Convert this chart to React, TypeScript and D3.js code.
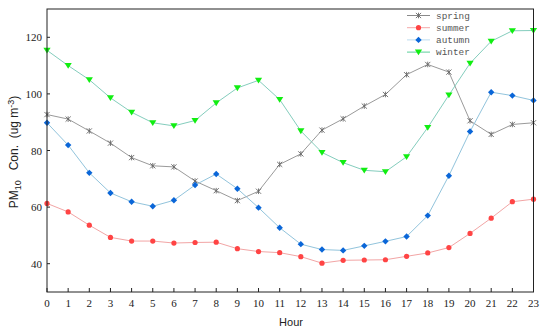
import React from "react";
import * as d3 from "d3";

const hours = d3.range(0, 24);
const spring = [92.7, 91.1, 86.9, 82.6, 77.5, 74.6, 74.2, 69.2, 65.8, 62.3, 65.6, 75.1, 78.8, 87.2, 91.2, 95.7, 99.8, 106.8, 110.4, 107.7, 90.5, 85.7, 89.2, 89.8];
const summer = [61.3, 58.3, 53.6, 49.3, 48.0, 48.0, 47.3, 47.5, 47.6, 45.3, 44.3, 43.9, 42.5, 40.2, 41.2, 41.3, 41.4, 42.6, 43.8, 45.7, 50.7, 56.1, 61.9, 62.8];
const autumn = [89.8, 81.9, 72.1, 65.0, 61.9, 60.3, 62.4, 67.8, 71.7, 66.5, 59.8, 52.7, 46.9, 45.0, 44.7, 46.3, 47.9, 49.6, 57.0, 71.1, 86.7, 100.6, 99.4, 97.7];
const winter = [115.4, 110.0, 105.0, 98.6, 93.5, 89.8, 88.7, 90.6, 96.8, 102.1, 104.8, 98.0, 86.9, 79.3, 75.7, 73.0, 72.5, 77.8, 88.1, 99.6, 110.8, 118.6, 122.3, 122.4];
const yTicks = [40, 60, 80, 100, 120];
const seriesNames = ["spring", "summer", "autumn", "winter"];

const W = 550, H = 333;
const M = { left: 47, right: 533.5, top: 9, bottom: 292 };

type S = { name: string; values: number[]; line: string; legendLine: string; marker: string; shape: string };

export default function App() {
  const x = d3.scaleLinear().domain([0, 23]).range([M.left, M.right]);
  const y = d3.scaleLinear().domain([30, 130]).range([M.bottom, M.top]);
  const series: S[] = [
    { name: seriesNames[0], values: spring, line: "#9a9a9a", legendLine: "#8a8a8a", marker: "#666", shape: "star" },
    { name: seriesNames[1], values: summer, line: "#f2a5a5", legendLine: "#f4a8a8", marker: "#ff4444", shape: "circle" },
    { name: seriesNames[2], values: autumn, line: "#92c4dc", legendLine: "#bcdcf0", marker: "#0a66d8", shape: "diamond" },
    { name: seriesNames[3], values: winter, line: "#84cdbd", legendLine: "#5ccf9a", marker: "#11ee11", shape: "tri" },
  ];
  const line = d3.line<number>().x((_, i) => x(hours[i])).y((v) => y(v));

  const marker = (s: S, cx: number, cy: number, key: string | number) => {
    if (s.shape === "circle") return <circle key={key} cx={cx} cy={cy} r={2.6} fill={s.marker} />;
    if (s.shape === "diamond")
      return <path key={key} d={`M${cx},${cy - 3.2}L${cx + 3.2},${cy}L${cx},${cy + 3.2}L${cx - 3.2},${cy}Z`} fill={s.marker} />;
    if (s.shape === "tri")
      return <path key={key} d={`M${cx - 3.6},${cy - 2.6}L${cx + 3.6},${cy - 2.6}L${cx},${cy + 3.2}Z`} fill={s.marker} />;
    return (
      <path key={key} d={`M${cx - 2.6},${cy - 2.6}L${cx + 2.6},${cy + 2.6}M${cx - 2.6},${cy + 2.6}L${cx + 2.6},${cy - 2.6}M${cx},${cy - 2.8}L${cx},${cy + 2.8}`} stroke={s.marker} strokeWidth={0.9} fill="none" />
    );
  };

  return (
    <svg width={W} height={H} style={{ position: "absolute", left: 0, top: 0, background: "#fff" }}>
      <rect x={0} y={0} width={W} height={H} fill="#fff" />
      {series.map((s) => (
        <g key={s.name}>
          <path d={line(s.values) || ""} fill="none" stroke={s.line} strokeWidth={1} />
          {s.values.map((v, i) => marker(s, x(hours[i]), y(v), i))}
        </g>
      ))}
      <rect x={M.left} y={M.top} width={M.right - M.left} height={M.bottom - M.top} fill="none" stroke="#222" strokeWidth={1} />
      {hours.map((h) => (
        <g key={h}>
          <line x1={x(h)} x2={x(h)} y1={M.bottom} y2={M.bottom - 4} stroke="#222" />
          <text x={x(h)} y={307} textAnchor="middle" fontFamily="Liberation Serif" fontSize={11} fill="#222">{h}</text>
        </g>
      ))}
      {yTicks.map((t) => (
        <g key={t}>
          <line x1={M.left} x2={M.left + 3} y1={y(t)} y2={y(t)} stroke="#222" />
          <text x={42} y={y(t) + 4} textAnchor="end" fontFamily="Liberation Serif" fontSize={11} fill="#222">{t}</text>
        </g>
      ))}
      <text x={291} y={326} textAnchor="middle" fontFamily="Liberation Sans" fontSize={11} fill="#222">Hour</text>
      <text transform="translate(18,152) rotate(-90)" textAnchor="middle" fontFamily="Liberation Sans" fontSize={12} fill="#222" style={{ whiteSpace: "pre" }}>
        PM<tspan fontSize={9} dy={3}>10</tspan><tspan dy={-3}>{"   Con.  (ug m"}</tspan><tspan fontSize={9} dy={-4}>-3</tspan><tspan dy={4}>)</tspan>
      </text>
      {series.map((s, i) => {
        const ly = 15.5 + i * 12.2;
        return (
          <g key={s.name}>
            <line x1={407} x2={430} y1={ly} y2={ly} stroke={s.legendLine} strokeWidth={1} />
            {marker(s, 418.5, ly, "m")}
            <text x={436} y={ly + 3.3} fontFamily="Liberation Mono" fontSize={9.4} fill="#555">{s.name}</text>
          </g>
        );
      })}
    </svg>
  );
}
